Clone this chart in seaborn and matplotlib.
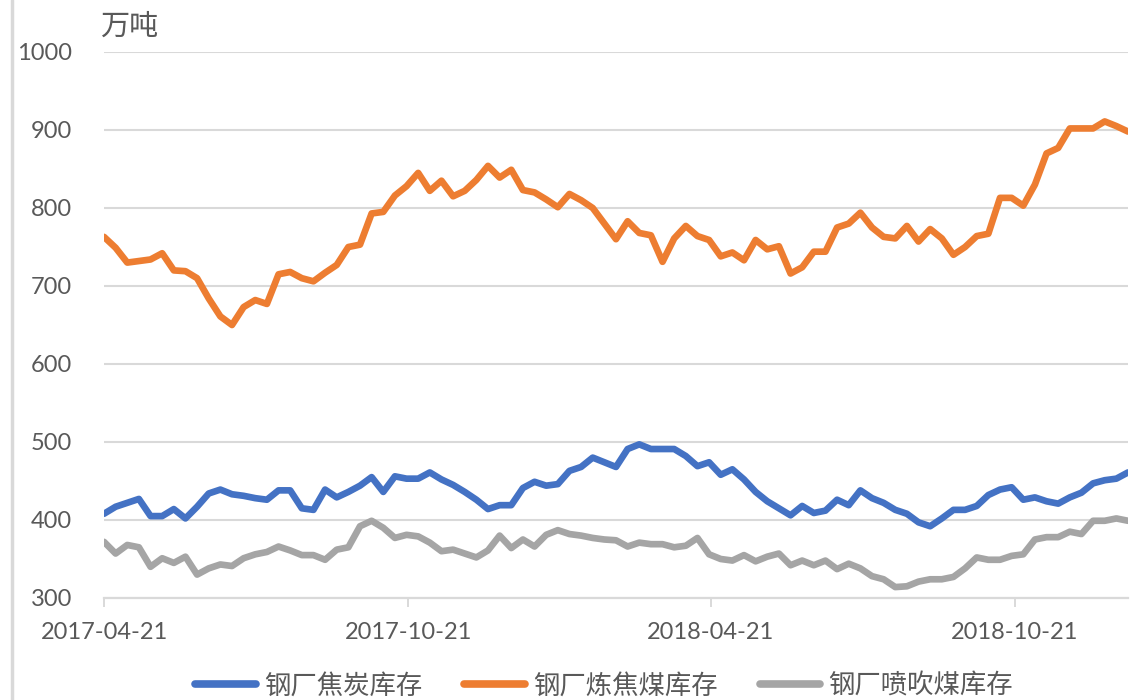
import numpy as np
import pandas as pd
import matplotlib
matplotlib.use("Agg")
import matplotlib.pyplot as plt
from matplotlib.lines import Line2D
import seaborn as sns

# Weekly steel-mill inventories (10k tonnes), Fridays from 2017-04-21
start_date = "2017-04-21"
n_weeks = 89

coke_stock = [
    408, 417, 422, 427, 405, 405, 414, 402, 417, 434,
    439, 433, 431, 428, 426, 438, 438, 415, 413, 439,
    429, 436, 444, 455, 436, 456, 453, 453, 461, 452,
    445, 436, 426, 414, 419, 419, 441, 449, 444, 446,
    463, 468, 480, 474, 468, 491, 497, 491, 491, 491,
    482, 469, 474, 458, 465, 452, 436, 424, 415, 406,
    418, 409, 412, 426, 419, 438, 428, 422, 413, 408,
    397, 392, 402, 413, 413, 418, 432, 439, 442, 426,
    429, 424, 421, 429, 435, 447, 451, 453, 461,
]

coking_coal_stock = [
    763, 749, 730, 732, 734, 742, 720, 719, 710, 684,
    661, 650, 673, 682, 677, 715, 718, 710, 706, 717,
    727, 750, 753, 793, 795, 816, 828, 845, 822, 835,
    815, 822, 836, 854, 839, 849, 823, 820, 811, 801,
    818, 810, 800, 780, 760, 783, 768, 765, 731, 761,
    777, 764, 759, 738, 743, 733, 759, 747, 751, 716,
    724, 744, 744, 775, 780, 794, 775, 763, 761, 777,
    757, 773, 761, 740, 750, 764, 767, 813, 813, 803,
    830, 870, 877, 902, 902, 902, 911, 905, 898,
]

pci_coal_stock = [
    372, 357, 368, 365, 340, 351, 345, 353, 330, 338,
    343, 341, 351, 356, 359, 366, 361, 355, 355, 349,
    362, 365, 392, 399, 390, 377, 381, 379, 371, 360,
    362, 357, 352, 361, 380, 364, 375, 366, 381, 387,
    382, 380, 377, 375, 374, 366, 371, 369, 369, 365,
    367, 377, 356, 350, 348, 355, 347, 353, 357, 342,
    348, 342, 348, 337, 344, 338, 328, 324, 314, 315,
    321, 324, 324, 327, 338, 352, 349, 349, 354, 356,
    375, 378, 378, 385, 382, 399, 399, 402, 399,
]

series_names = ["钢厂焦炭库存", "钢厂炼焦煤库存", "钢厂喷吹煤库存"]
series_colors = ["#4472C4", "#ED7D31", "#A5A5A5"]
x_tick_labels = ["2017-04-21", "2017-10-21", "2018-04-21", "2018-10-21"]
y_ticks = [300, 400, 500, 600, 700, 800, 900, 1000]
unit_label = "万吨"

dates = pd.date_range(start_date, periods=n_weeks, freq="7D")
df = pd.DataFrame({
    "date": np.tile(dates, 3),
    "value": np.concatenate([coke_stock, coking_coal_stock, pci_coal_stock]),
    "series": np.repeat(series_names, n_weeks),
})

sns.set_theme(style="white")
plt.rcParams["font.family"] = ["Lato", "Noto Sans CJK SC", "DejaVu Sans"]
text_color = "#595959"
grid_color = "#D9D9D9"

fig = plt.figure(figsize=(11.31, 7.0), dpi=100)
ax = fig.add_axes([104 / 1131, 1 - 598 / 700, (1128 - 104) / 1131, (598 - 52) / 700])

sns.lineplot(
    data=df, x="date", y="value", hue="series", hue_order=series_names,
    palette=dict(zip(series_names, series_colors)), linewidth=4.8,
    solid_capstyle="round", solid_joinstyle="round", legend=False, ax=ax,
)

ax.set_xlim(dates[0], dates[-1])
ax.set_ylim(300, 1000)
ax.set_yticks(y_ticks)
ax.set_yticklabels([str(v) for v in y_ticks])
ax.set_xticks(pd.to_datetime(x_tick_labels))
ax.set_xticklabels(x_tick_labels)
ax.set_xlabel("")
ax.set_ylabel("")

ax.grid(axis="y", color=grid_color, linewidth=1.5)
ax.grid(axis="x", visible=False)
ax.set_axisbelow(True)
for side in ["top", "right", "left"]:
    ax.spines[side].set_visible(False)
ax.spines["bottom"].set_color(grid_color)
ax.spines["bottom"].set_linewidth(1.6)

ax.tick_params(axis="y", length=0, pad=23, labelsize=17, labelcolor=text_color)
ax.tick_params(axis="x", direction="out", length=6.5, width=1.4, color=grid_color,
               pad=11, labelsize=17, labelcolor=text_color, bottom=True)

fig.text(100 / 1131, 1 - 27 / 700, unit_label, ha="left", va="center",
         fontsize=21, color=text_color)

# thin border along the left edge of the canvas
fig.add_artist(Line2D([12 / 1131, 12 / 1131], [0, 1], transform=fig.transFigure,
                      color=grid_color, linewidth=2.5))

handles = [Line2D([0], [0], color=c, linewidth=5.5, solid_capstyle="round")
           for c in series_colors]
fig.legend(handles, series_names, loc="center", bbox_to_anchor=(604 / 1131, 1 - 686 / 700),
           ncol=3, frameon=False, fontsize=19, labelcolor=text_color,
           handlelength=2.3, handletextpad=0.3, columnspacing=1.6)

fig.savefig("out.png", dpi=100)
